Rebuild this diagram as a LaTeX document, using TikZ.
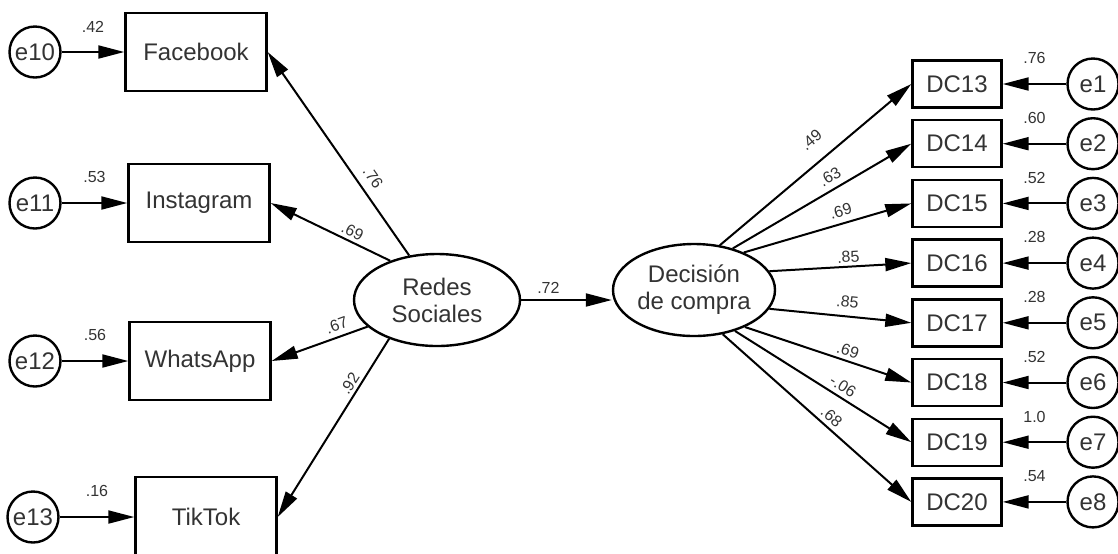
\documentclass[tikz,border=0pt]{standalone}
\usepackage{fontspec}
\setmainfont{Liberation Sans}
\usetikzlibrary{positioning, arrows.meta, shapes.geometric}

\begin{document}
\begin{tikzpicture}[
    x=0.5pt, y=-0.5pt,
    every node/.style={font=\fontsize{12}{13.5}\selectfont, text=black!80},
    obs/.style={rectangle, draw, line width=1.2pt, minimum width=70.5pt, minimum height=39pt, inner sep=0pt},
    dc/.style={obs, minimum width=44.5pt, minimum height=23.5pt},
    lat/.style={ellipse, draw, line width=1.2pt, minimum width=#1, minimum height=46pt, inner sep=0pt, align=center},
    lat/.default=83pt,
    err/.style={circle, draw, line width=1.2pt, minimum size=25.5pt, inner sep=0pt},
    arr/.style={-{Triangle[length=13pt, width=6.5pt]}, line width=1pt},
    val/.style={font=\fontsize{8}{9}\selectfont, inner sep=0pt},
]
    \clip (0,0) rectangle (1118,553);

    % latent variables
    \node[lat] (redes) at (437,300) {Redes\\ Sociales};
    \node[lat=81pt] (dec) at (694,290) {Decisión\\ de compra};
    \draw[arr] (redes.east) -- node[val, pos=0.3, above=3pt]{.72} (redes.east -| dec.west);

    % social networks side
    \node[obs] (facebook) at (196,52) {Facebook};
    \node[obs] (instagram) at (199,203) {Instagram};
    \node[obs] (whatsapp) at (200,361) {WhatsApp};
    \node[obs, minimum height=40pt] (tiktok) at (206,517) {TikTok};
    \node[err] (e10) at (35,52) {e10};
    \node[err] (e11) at (35,203) {e11};
    \node[err] (e12) at (35,361) {e12};
    \node[err] (e13) at (33,517) {e13};

    \draw[arr] (redes.122) -- node[val, sloped, pos=0.34, above=4pt]{.76} (facebook.east);
    \draw[arr] (redes.140) -- node[val, sloped, pos=0.35, above=1.5pt]{.69} (instagram.east);
    \draw[arr] (redes.201) -- node[val, sloped, pos=0.28, above=2.5pt]{.67} (whatsapp.east);
    \draw[arr] (redes.219) -- node[val, sloped, pos=0.28, above=1.5pt]{.92} (tiktok.east);

    \draw[arr] (e10) -- node[val, midway, above=9.5pt]{.42} (facebook);
    \draw[arr] (e11) -- node[val, midway, above=9.5pt]{.53} (instagram);
    \draw[arr] (e12) -- node[val, midway, above=9.5pt]{.56} (whatsapp);
    \draw[arr] (e13) -- node[val, midway, above=9.5pt]{.16} (tiktok);

    % purchase decision side
    \node[dc] (dc13) at (957,84) {DC13};
    \node[dc] (dc14) at (957,143.7) {DC14};
    \node[dc] (dc15) at (957,203.4) {DC15};
    \node[dc] (dc16) at (957,263.1) {DC16};
    \node[dc] (dc17) at (957,322.8) {DC17};
    \node[dc] (dc18) at (957,382.5) {DC18};
    \node[dc] (dc19) at (957,442.2) {DC19};
    \node[dc] (dc20) at (957,501.9) {DC20};
    \node[err] (e1) at (1093,84) {e1};
    \node[err] (e2) at (1093,143.7) {e2};
    \node[err] (e3) at (1093,203.4) {e3};
    \node[err] (e4) at (1093,263.1) {e4};
    \node[err] (e5) at (1093,322.8) {e5};
    \node[err] (e6) at (1093,382.5) {e6};
    \node[err] (e7) at (1093,442.2) {e7};
    \node[err] (e8) at (1093,501.9) {e8};

    \draw[arr] (dec.60) -- node[val, sloped, pos=0.55, above=7.5pt]{.49} (dc13.west);
    \draw[arr] (dec.47) -- node[val, sloped, pos=0.58, above=3pt]{.63} (dc14.west);
    \draw[arr] (dec.37) -- node[val, sloped, pos=0.6, above=3pt]{.69} (dc15.west);
    \draw[arr] (dec.14) -- node[val, sloped, pos=0.56, above=1.5pt]{.85} (dc16.west);
    \draw[arr] (dec.-14) -- node[val, sloped, pos=0.54, above=4pt]{.85} (dc17.west);
    \draw[arr] (dec.-36) -- node[val, sloped, pos=0.6, above=1.7pt]{.69} (dc18.west);
    \draw[arr] (dec.-45) -- node[val, sloped, pos=0.58, above=2pt]{-.06} (dc19.west);
    \draw[arr] (dec.-57) -- node[val, sloped, pos=0.54, above=2pt]{.68} (dc20.west);

    \draw[arr] (e1) -- node[val, midway, above=9.5pt]{.76} (dc13);
    \draw[arr] (e2) -- node[val, midway, above=9.5pt]{.60} (dc14);
    \draw[arr] (e3) -- node[val, midway, above=9.5pt]{.52} (dc15);
    \draw[arr] (e4) -- node[val, midway, above=9.5pt]{.28} (dc16);
    \draw[arr] (e5) -- node[val, midway, above=9.5pt]{.28} (dc17);
    \draw[arr] (e6) -- node[val, midway, above=9.5pt]{.52} (dc18);
    \draw[arr] (e7) -- node[val, midway, above=9.5pt]{1.0} (dc19);
    \draw[arr] (e8) -- node[val, midway, above=9.5pt]{.54} (dc20);
\end{tikzpicture}
\end{document}
